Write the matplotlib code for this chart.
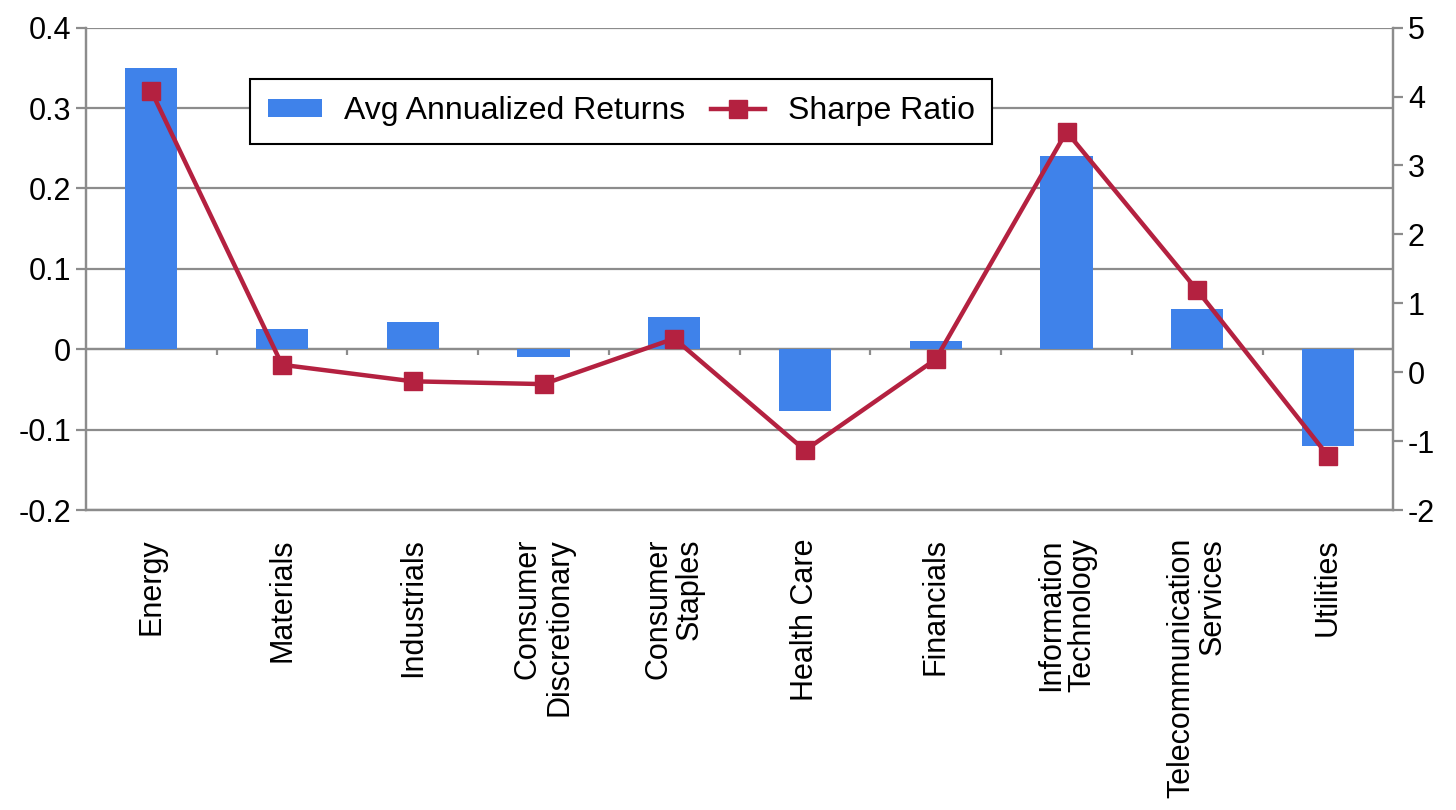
import numpy as np
import matplotlib.pyplot as plt

plt.rcParams['font.family'] = ['Liberation Sans', 'DejaVu Sans']

sectors = ['Energy', 'Materials', 'Industrials', 'Consumer\nDiscretionary',
           'Consumer\nStaples', 'Health Care', 'Financials',
           'Information\nTechnology', 'Telecommunication\nServices', 'Utilities']
avg_returns = [0.35, 0.025, 0.034, -0.01, 0.04, -0.076, 0.01, 0.24, 0.05, -0.12]
sharpe = [4.08, 0.11, -0.13, -0.17, 0.49, -1.13, 0.19, 3.49, 1.19, -1.21]
left_ticks = [-0.2, -0.1, 0, 0.1, 0.2, 0.3, 0.4]
left_labels = ['-0.2', '-0.1', '0', '0.1', '0.2', '0.3', '0.4']
right_ticks = [-2, -1, 0, 1, 2, 3, 4, 5]
right_labels = ['-2', '-1', '0', '1', '2', '3', '4', '5']

bar_color = '#3f82ea'
line_color = '#b42140'
grid_color = '#8c8c8c'

fig = plt.figure(figsize=(14.56, 8.1), dpi=100)
ax = fig.add_axes([0.059, 0.370, 0.898, 0.596])
x = np.arange(len(sectors))

bars = ax.bar(x, avg_returns, width=0.4, color=bar_color, zorder=2,
              label='Avg Annualized Returns')
ax.set_xlim(-0.5, len(sectors) - 0.5)
ax.set_ylim(-0.2, 0.4)
ax.set_yticks(left_ticks)
ax.set_yticklabels(left_labels)
ax.yaxis.grid(True, color=grid_color, linewidth=1.6, zorder=0)
ax.set_axisbelow(True)

# zero line with small ticks between categories
ax.axhline(0, color=grid_color, linewidth=1.6, zorder=1)
bounds = x[:-1] + 0.5
ax.vlines(bounds, -0.007, 0, color=grid_color, linewidth=1.6, zorder=1)

ax.set_xticks(x)
ax.set_xticklabels(sectors, rotation=90, fontsize=22, va='top', ha='center',
                   multialignment='right', linespacing=1.05)
ax.tick_params(axis='x', length=0, pad=20)
ax.tick_params(axis='y', labelsize=22, color=grid_color, width=1.6, length=7)

ax.spines['top'].set_visible(False)
for side in ['left', 'bottom', 'right']:
    ax.spines[side].set_color(grid_color)
    ax.spines[side].set_linewidth(1.6)

ax2 = ax.twinx()
line, = ax2.plot(x, sharpe, color=line_color, linewidth=3.2, marker='s',
                 markersize=13, label='Sharpe Ratio', zorder=3)
ax2.set_ylim(-2, 5)
ax2.set_yticks(right_ticks)
ax2.set_yticklabels(right_labels)
ax2.tick_params(axis='y', labelsize=22, color=grid_color, width=1.6, length=7)
ax2.spines['top'].set_visible(False)
for side in ['left', 'bottom', 'right']:
    ax2.spines[side].set_color(grid_color)
    ax2.spines[side].set_linewidth(1.6)

leg = ax2.legend([bars, line], ['Avg Annualized Returns', 'Sharpe Ratio'],
                 loc='upper left', bbox_to_anchor=(0.1717, 0.903),
                 bbox_transform=fig.transFigure, ncol=2, fontsize=23,
                 frameon=True, fancybox=False, framealpha=1,
                 handlelength=1.7, handleheight=0.5, handletextpad=0.7,
                 columnspacing=0.8, borderpad=0.55, borderaxespad=0)
leg.get_frame().set_edgecolor('black')
leg.get_frame().set_linewidth(1.5)

fig.savefig('out.png', dpi=100, facecolor='white')
